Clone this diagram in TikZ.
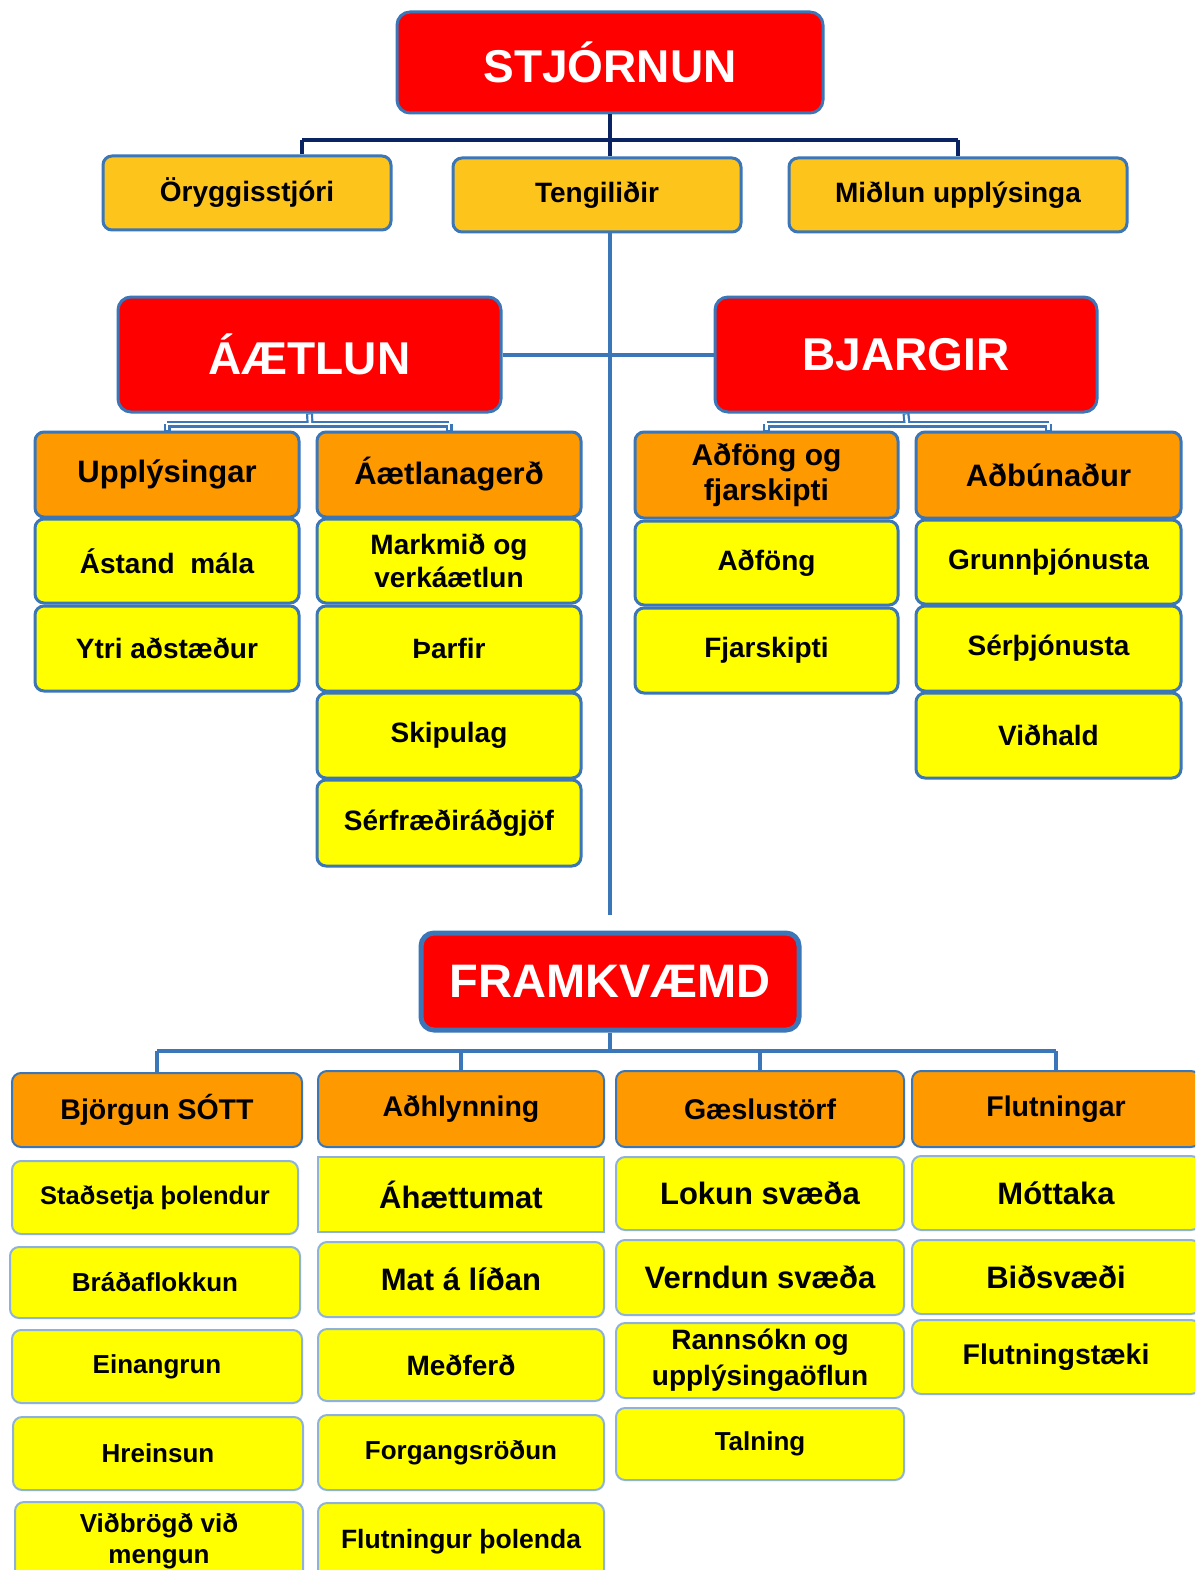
\documentclass[tikz,border=0pt]{standalone}
\usepackage{fontspec}
\setmainfont{Liberation Sans}
\definecolor{bred}{HTML}{FF0000}
\definecolor{borange}{HTML}{FF9900}
\definecolor{bgold}{HTML}{FDC41C}
\definecolor{byellow}{HTML}{FFFF00}
\definecolor{bblue}{HTML}{3A76B8}
\definecolor{lblue}{HTML}{8FB2DC}
\definecolor{navy}{HTML}{0A2463}
\newcommand{\bx}[7]{%
  \node[#2, minimum width={(#5-#3)*1pt}, minimum height={(#6-#4)*1pt}] (#1) at ({(#3+#5)/2},{(#4+#6)/2}) {#7};}
\tikzset{
  base/.style={draw=bblue, line width=3pt, rounded corners=9pt, inner sep=0pt, align=center, text=black},
  title/.style={base, fill=bred, rounded corners=13pt, text=white, font=\bfseries\fontsize{46}{52}\selectfont},
  gold/.style={base, fill=bgold, font=\bfseries\fontsize{28}{33}\selectfont},
  hdr/.style={base, fill=borange, font=\bfseries\fontsize{31}{35}\selectfont},
  itm/.style={base, fill=byellow, font=\bfseries\fontsize{28}{33}\selectfont},
  hdrb/.style={base, line width=2pt, fill=borange, font=\bfseries\fontsize{28.5}{33}\selectfont},
  itmb/.style={base, draw=lblue, line width=2pt, fill=byellow, font=\bfseries\fontsize{26}{31}\selectfont},
  big/.style={font=\bfseries\fontsize{31}{36}\selectfont},
  navyline/.style={draw=navy, line width=4pt},
  blueline/.style={draw=bblue, line width=4pt},
  hollowout/.style={draw=bblue, line width=7pt},
  hollowin/.style={draw=white, line width=2.6pt},
}
\begin{document}
\begin{tikzpicture}[x=1pt,y=-1pt]
\useasboundingbox (0,0) rectangle (1195,1570);
\clip (0,0) rectangle (1195,1570);
\fill[white] (0,0) rectangle (1195,1570);

% ---- STJORNUN ----
\bx{stj}{title}{397}{12}{823}{113}{STJÓRNUN}
\bx{ory}{gold}{103}{156}{391}{230}{Öryggisstjóri}
\bx{teng}{gold}{453}{158}{741}{232}{Tengiliðir}
\bx{midl}{gold}{789}{158}{1127}{232}{Miðlun upplýsinga}

% ---- AETLUN / BJARGIR ----
\bx{aet}{title}{118}{297}{501}{412}{ÁÆTLUN}
\bx{bja}{title}{715}{297}{1097}{412}{BJARGIR}

\bx{upp}{hdr}{35}{432}{299}{517}{Upplýsingar}
\bx{ast}{itm}{35}{519}{299}{603}{Ástand\ \ mála}
\bx{ytr}{itm}{35}{606}{299}{691}{Ytri aðstæður}
\bx{aeg}{hdr}{317}{432}{581}{517}{Áætlanagerð}
\bx{mar}{itm}{317}{519}{581}{603}{Markmið og\\verkáætlun}
\bx{thar}{itm}{317}{606}{581}{691}{Þarfir}
\bx{skip}{itm}{317}{693}{581}{778}{Skipulag}
\bx{serf}{itm}{317}{780}{581}{866}{Sérfræðiráðgjöf}

\bx{adf}{hdr, font=\bfseries\fontsize{30}{35}\selectfont}{635}{432}{898}{518}{Aðföng og\\fjarskipti}
\bx{adfo}{itm}{635}{521}{898}{605}{Aðföng}
\bx{fja}{itm}{635}{608}{898}{693}{Fjarskipti}
\bx{adb}{hdr}{916}{432}{1181}{518}{Aðbúnaður}
\bx{grun}{itm}{916}{520}{1181}{604}{Grunnþjónusta}
\bx{serth}{itm}{916}{606}{1181}{691}{Sérþjónusta}
\bx{vid}{itm}{916}{693}{1181}{778}{Viðhald}

% ---- FRAMKVAEMD ----
\bx{fra}{title, line width=5pt, font=\bfseries\fontsize{47}{52}\selectfont}{421}{933}{799}{1030}{FRAMKVÆMD}

\bx{bjo}{hdrb}{12}{1073}{302}{1147}{Björgun SÓTT}
\bx{adh}{hdrb}{318}{1071}{604}{1147}{Aðhlynning}
\bx{gae}{hdrb}{616}{1071}{904}{1147}{Gæslustörf}
\bx{flu}{hdrb}{912}{1071}{1200}{1147}{Flutningar}

\bx{sta}{itmb, font=\bfseries\fontsize{25.5}{30}\selectfont}{12}{1161}{298}{1234}{Staðsetja þolendur}
\bx{bra}{itmb}{10}{1247}{300}{1318}{Bráðaflokkun}
\bx{ein}{itmb}{12}{1330}{302}{1403}{Einangrun}
\bx{hre}{itmb}{13}{1417}{303}{1490}{Hreinsun}
\bx{vidb}{itmb}{15}{1502}{303}{1580}{Viðbrögð við\\mengun}

\bx{aha}{itmb, big, rounded corners=0pt}{318}{1157}{604}{1232}{Áhættumat}
\bx{mat}{itmb, big}{318}{1242}{604}{1317}{Mat á líðan}
\bx{med}{itmb, font=\bfseries\fontsize{28}{33}\selectfont}{318}{1329}{604}{1401}{Meðferð}
\bx{for}{itmb}{318}{1415}{604}{1490}{Forgangsröðun}
\bx{flth}{itmb, font=\bfseries\fontsize{26.5}{31}\selectfont}{318}{1503}{604}{1580}{Flutningur þolenda}

\bx{lok}{itmb, big}{616}{1157}{904}{1230}{Lokun svæða}
\bx{ver}{itmb, big}{616}{1240}{904}{1315}{Verndun svæða}
\bx{ran}{itmb, font=\bfseries\fontsize{28}{36}\selectfont}{616}{1323}{904}{1398}{Rannsókn og\\upplýsingaöflun}
\bx{tal}{itmb}{616}{1408}{904}{1480}{Talning}

\bx{mot}{itmb, big}{912}{1156}{1200}{1230}{Móttaka}
\bx{bid}{itmb, big}{912}{1240}{1200}{1314}{Biðsvæði}
\bx{fls}{itmb, font=\bfseries\fontsize{28.5}{33}\selectfont}{912}{1320}{1200}{1394}{Flutningstæki}

% ---- connectors: STJORNUN ----
\coordinate (sbar) at (610,140);
\coordinate (sbarL) at (302,140);
\draw[navyline] (stj.south) -- (stj.south |- teng.north);
\draw[navyline] (sbarL) -- (midl.north |- sbar);
\draw[navyline] (sbarL) -- (sbarL |- ory.north);
\draw[navyline] (midl.north |- sbar) -- (midl.north);

% ---- main trunk ----
\coordinate (trunkEnd) at (610,915);
\draw[blueline] (stj.south |- teng.south) -- (trunkEnd);
\draw[blueline] (aet.east) -- (bja.west);

% ---- hollow connectors ----
\coordinate (abar) at (310,424);
\coordinate (bbar) at (907,424);
\draw[hollowout] (aet.south) -- (abar);
\draw[hollowout] (upp.north |- abar) -- (aeg.north |- abar);
\draw[hollowout] (upp.north |- abar) -- (upp.north);
\draw[hollowout] (aeg.north |- abar) -- (aeg.north);
\draw[hollowout] (bja.south) -- (bbar);
\draw[hollowout] (adf.north |- bbar) -- (adb.north |- bbar);
\draw[hollowout] (adf.north |- bbar) -- (adf.north);
\draw[hollowout] (adb.north |- bbar) -- (adb.north);
\draw[hollowin] (aet.south) ++(0,1) -- (abar);
\draw[hollowin] (upp.north |- abar) -- (aeg.north |- abar);
\draw[hollowin] (upp.north |- abar) -- ([yshift=1pt]upp.north);
\draw[hollowin] (aeg.north |- abar) -- ([yshift=1pt]aeg.north);
\draw[hollowin] (bja.south) ++(0,1) -- (bbar);
\draw[hollowin] (adf.north |- bbar) -- (adb.north |- bbar);
\draw[hollowin] (adf.north |- bbar) -- ([yshift=1pt]adf.north);
\draw[hollowin] (adb.north |- bbar) -- ([yshift=1pt]adb.north);

% ---- FRAMKVAEMD connectors ----
\coordinate (fbar) at (610,1051);
\draw[blueline] (fra.south) -- (fbar);
\draw[blueline] (bjo.north |- fbar) -- (flu.north |- fbar);
\draw[blueline] (bjo.north |- fbar) -- (bjo.north);
\draw[blueline] (adh.north |- fbar) -- (adh.north);
\draw[blueline] (gae.north |- fbar) -- (gae.north);
\draw[blueline] (flu.north |- fbar) -- (flu.north);
\end{tikzpicture}
\end{document}
